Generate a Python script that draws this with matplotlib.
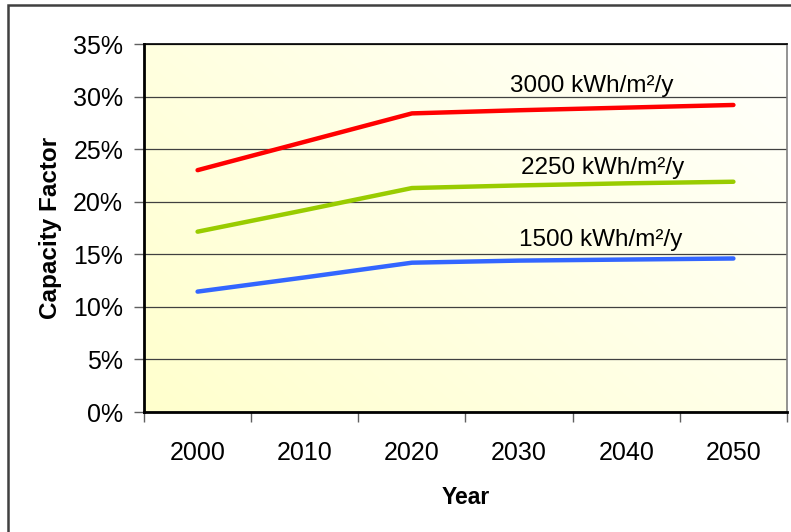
import matplotlib.pyplot as plt
import numpy as np
from matplotlib.patches import Rectangle
from matplotlib.ticker import FixedLocator, PercentFormatter

plt.rcParams['font.family'] = ['Liberation Sans', 'DejaVu Sans']

# Capacity factor by year for three irradiation levels
years = ['2000', '2010', '2020', '2030', '2040', '2050']
cf_3000 = [23.0, 25.7, 28.4, 28.7, 28.95, 29.2]
cf_2250 = [17.15, 19.2, 21.3, 21.55, 21.75, 21.9]
cf_1500 = [11.45, 12.8, 14.2, 14.4, 14.5, 14.6]
series_labels = ['3000 kWh/m²/y', '2250 kWh/m²/y', '1500 kWh/m²/y']
colors = ['#ff0000', '#99cc00', '#3366ff']

fig = plt.figure(figsize=(7.91, 5.32), dpi=100)
ax = fig.add_axes([144 / 791, 1 - 412 / 532, (787 - 144) / 791, (412 - 44) / 532])

x = np.arange(len(years))

# pale yellow background, fading toward white at the top right
gx, gy = np.meshgrid(np.linspace(0, 1, 200), np.linspace(0, 1, 200))
t = np.clip((gx * 0.6 + gy * 0.4), 0, 1)
base = np.array([255, 255, 205]) / 255
top = np.array([255, 255, 252]) / 255
grad = base[None, None, :] * (1 - t[..., None]) + top[None, None, :] * t[..., None]
ax.imshow(grad, extent=[-0.5, 5.5, 0, 35], origin='lower', aspect='auto', zorder=0)

for vals, col in zip([cf_3000, cf_2250, cf_1500], colors):
    ax.plot(x, vals, color=col, lw=3.2, solid_capstyle='round', zorder=3)

ax.text(3.68, 30.0, series_labels[0], fontsize=17.5, ha='center', va='bottom')
ax.text(3.78, 22.2, series_labels[1], fontsize=17.5, ha='center', va='bottom')
ax.text(3.76, 15.3, series_labels[2], fontsize=17.5, ha='center', va='bottom')

ax.set_xlim(-0.5, 5.5)
ax.set_ylim(0, 35)
ax.set_yticks(np.arange(0, 36, 5))
ax.yaxis.set_major_formatter(PercentFormatter(decimals=0))
ax.grid(axis='y', color='#404040', lw=0.9, zorder=1)

ax.set_xticks(x, years)
ax.xaxis.set_minor_locator(FixedLocator(np.arange(-0.5, 6, 1)))
ax.tick_params(axis='x', which='major', length=0, pad=21, labelsize=18)
ax.tick_params(axis='x', which='minor', length=7, color='#606060', width=1)
ax.tick_params(axis='y', length=7, color='#606060', width=1, pad=8, labelsize=18)

for side in ['left', 'bottom']:
    ax.spines[side].set_linewidth(2)
    ax.spines[side].set_color('black')
ax.spines['top'].set_linewidth(1.2)
ax.spines['right'].set_color('#808080')
ax.spines['right'].set_linewidth(1.2)

ax.set_xlabel('Year', fontsize=16.5, fontweight='bold', labelpad=15)
ax.set_ylabel('Capacity Factor', fontsize=17.5, fontweight='bold', labelpad=8)

# frame around the whole chart
frame = Rectangle((8 / 791, -0.1), 1.2, 1 - 5 / 532 + 0.1, transform=fig.transFigure,
                  fill=False, edgecolor='#404040', lw=1.8, clip_on=False)
fig.patches.append(frame)

fig.savefig('out.png', dpi=100)
